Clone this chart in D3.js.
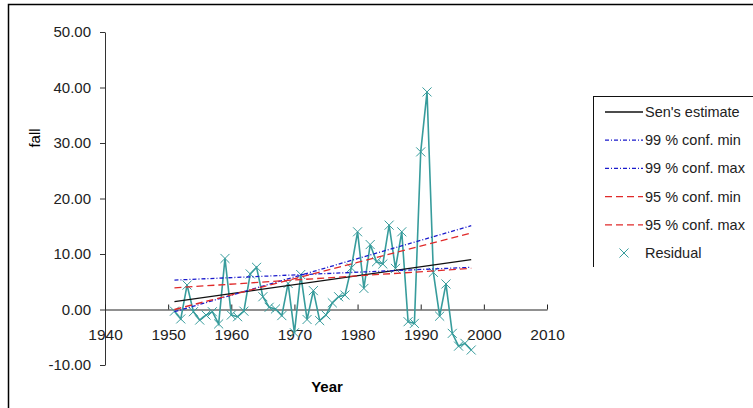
<!DOCTYPE html>
<html>
<head>
<meta charset="utf-8">
<script src="https://cdn.jsdelivr.net/npm/d3@7"></script>
<style>
  body { margin: 0; background: #fff; }
  svg { display: block; font-family: Arial, "Liberation Sans", sans-serif; }
</style>
</head>
<body>
<svg id="chart" width="753" height="408"></svg>
<script>
// residual series, one value per year
const years = [1951, 1952, 1953, 1954, 1955, 1956, 1957, 1958, 1959, 1960,
  1961, 1962, 1963, 1964, 1965, 1966, 1967, 1968, 1969, 1970,
  1971, 1972, 1973, 1974, 1975, 1976, 1977, 1978, 1979, 1980,
  1981, 1982, 1983, 1984, 1985, 1986, 1987, 1988, 1989, 1990,
  1991, 1992, 1993, 1994, 1995, 1996, 1997, 1998];
const residual = [-0.3, -1.7, 4.4, -0.4, -1.9, -1.0, -0.4, -2.6, 9.2, -1.0,
  -1.3, -0.3, 6.4, 7.6, 2.3, 0.4, 0.1, -1.1, 4.7, -4.2,
  6.3, -1.8, 3.4, -2.0, -1.0, 1.2, 2.3, 2.6, 7.5, 14.0,
  3.8, 11.7, 8.6, 8.2, 15.2, 7.4, 14.0, -2.2, -2.5, 28.4,
  39.2, 6.7, -1.2, 4.6, -4.3, -6.6, -6.1, -7.3];

// trend lines: value at first and last year
const trendYears = [1951, 1998];
const senEstimate = [1.4, 9.0];
const conf99Min = [5.3, 7.6];
const conf99Max = [-0.4, 15.1];
const conf95Min = [3.9, 7.4];
const conf95Max = [0.0, 13.8];

const xTicks = [1940, 1950, 1960, 1970, 1980, 1990, 2000, 2010];
const yTicks = [-10, 0, 10, 20, 30, 40, 50];

const svg = d3.select('#chart');

const x = d3.scaleLinear().domain([1940, 2010]).range([105, 547]);
const y = d3.scaleLinear().domain([-10, 50]).range([365, 32]);

// outer frame (runs off the right and bottom edges)
svg.append('rect')
  .attr('x', 8.5).attr('y', 4.5)
  .attr('width', 900).attr('height', 600)
  .attr('fill', 'none')
  .attr('stroke', '#000')
  .attr('stroke-width', 1.5);

// Y axis
svg.append('g')
  .attr('transform', `translate(${x(1940)},0)`)
  .attr('font-family', null).attr('font-size', null)
  .call(d3.axisLeft(y).tickValues(yTicks).tickFormat((d) => d.toFixed(2))
    .tickSize(5).tickSizeOuter(0).tickPadding(9))
  .call((g) => g.attr('font-family', null).attr('font-size', null))
  .call((g) => g.selectAll('text').style('font-size', '15px').attr('fill', '#222'))
  .call((g) => g.selectAll('line, path').attr('stroke', '#333'));

// X axis along zero
svg.append('g')
  .attr('transform', `translate(0,${y(0)})`)
  .call(d3.axisBottom(x).tickValues(xTicks).tickFormat(d3.format('d'))
    .tickSize(-5).tickSizeOuter(0).tickPadding(19))
  .call((g) => g.attr('font-family', null).attr('font-size', null))
  .call((g) => g.selectAll('text').style('font-size', '15.5px').attr('fill', '#222'))
  .call((g) => g.selectAll('line, path').attr('stroke', '#222'));

// axis titles
svg.append('text')
  .attr('transform', 'translate(40,138) rotate(-90)')
  .attr('text-anchor', 'middle')
  .style('font-size', '15px')
  .text('fall');

svg.append('text')
  .attr('x', 327).attr('y', 392)
  .attr('text-anchor', 'middle')
  .style('font-size', '15px')
  .attr('font-weight', 'bold')
  .text('Year');

const series = [
  { name: 'Sen\'s estimate', values: senEstimate, color: '#111', dash: null },
  { name: '99 % conf. min', values: conf99Min, color: '#1a1acc', dash: '4,2,1,2' },
  { name: '99 % conf. max', values: conf99Max, color: '#1a1acc', dash: '4,2,1,2' },
  { name: '95 % conf. min', values: conf95Min, color: '#e02a2a', dash: '7,4' },
  { name: '95 % conf. max', values: conf95Max, color: '#e02a2a', dash: '7,4' },
];

const line = d3.line().x((d) => x(d[0])).y((d) => y(d[1]));

// residual line and markers
const resPts = years.map((yr, i) => [yr, residual[i]]);
svg.append('path')
  .attr('d', line(resPts))
  .attr('fill', 'none')
  .attr('stroke', '#379c9c')
  .attr('stroke-width', 1.6);

const cross = d3.symbol().type(d3.symbolTimes || d3.symbolCross).size(55);
svg.append('g')
  .selectAll('path')
  .data(resPts)
  .join('path')
  .attr('transform', (d) => `translate(${x(d[0])},${y(d[1])})`)
  .attr('d', cross)
  .attr('fill', 'none')
  .attr('stroke', '#379c9c')
  .attr('stroke-width', 1);

// trend lines
svg.append('g')
  .selectAll('path')
  .data(series)
  .join('path')
  .attr('d', (s) => line(trendYears.map((yr, i) => [yr, s.values[i]])))
  .attr('fill', 'none')
  .attr('stroke', (s) => s.color)
  .attr('stroke-width', 1.3)
  .attr('stroke-dasharray', (s) => s.dash);

// legend, clipped at the bottom like the source
svg.append('clipPath').attr('id', 'legclip')
  .append('rect').attr('x', 585).attr('y', 90).attr('width', 200).attr('height', 177);

const legend = svg.append('g').attr('clip-path', 'url(#legclip)');
legend.append('rect')
  .attr('x', 593.5).attr('y', 96.5)
  .attr('width', 200).attr('height', 220)
  .attr('fill', '#fff')
  .attr('stroke', '#111');

const rowY = d3.scalePoint().domain(d3.range(6)).range([112, 253]);

const items = legend.selectAll('g.item')
  .data(series)
  .join('g')
  .attr('class', 'item')
  .attr('transform', (d, i) => `translate(0,${rowY(i)})`);

items.append('line')
  .attr('x1', 605).attr('x2', 643)
  .attr('stroke', (s) => s.color)
  .attr('stroke-width', 1.3)
  .attr('stroke-dasharray', (s) => s.dash);

items.append('text')
  .attr('x', 645).attr('dy', '0.35em')
  .style('font-size', '14.5px')
  .attr('fill', '#222')
  .text((s) => s.name);

const resItem = legend.append('g').attr('transform', `translate(0,${rowY(5)})`);
resItem.append('path')
  .attr('transform', 'translate(624,0)')
  .attr('d', cross)
  .attr('fill', 'none')
  .attr('stroke', '#379c9c');
resItem.append('text')
  .attr('x', 645).attr('dy', '0.35em')
  .style('font-size', '14.5px')
  .attr('fill', '#222')
  .text('Residual');
</script>
</body>
</html>
